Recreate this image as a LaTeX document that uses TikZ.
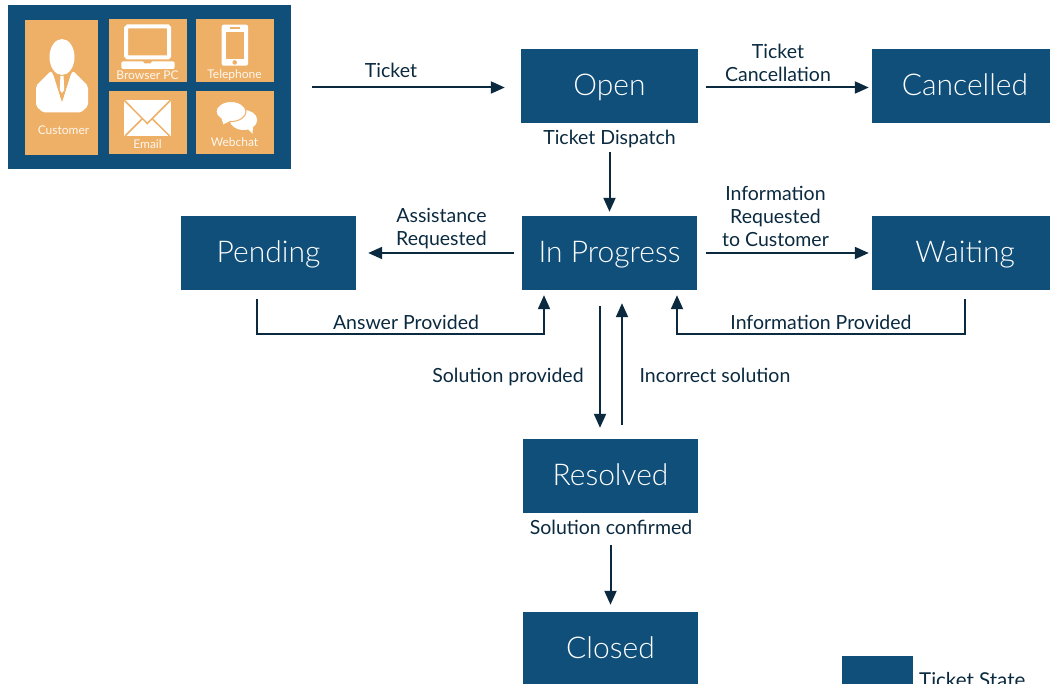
\documentclass[tikz,border=0pt]{standalone}
\usepackage{fontspec}
\usepackage{xcolor}
\usetikzlibrary{arrows.meta}
\setmainfont{Lato}
\newfontfamily\thinfont{Lato Light}
\definecolor{stateblue}{HTML}{0F4F7A}
\definecolor{panelorange}{HTML}{EEB066}
\definecolor{linenavy}{HTML}{0B2A3F}
\tikzset{
  statebox/.style={draw=none, fill=stateblue, text=white, minimum width=175pt, minimum height=74pt, inner sep=0pt, text height=20pt, text depth=1.4pt, font=\thinfont\fontsize{30}{32}\selectfont},
  tile/.style={fill=panelorange, inner sep=0pt},
  tilelabel/.style={text=white!90!panelorange, inner sep=0pt, font=\fontsize{12}{13}\selectfont},
  edgelabel/.style={text=linenavy, inner sep=0pt, align=center, font=\fontsize{19.5}{23}\selectfont},
  conn/.style={draw=linenavy, line width=2pt, -{Triangle[width=12pt,length=14pt]}},
}
\begin{document}
\begin{tikzpicture}[x=1pt, y=-1pt]
\useasboundingbox (0,0) rectangle (1050,684);
\clip (0,0) rectangle (1050,684);

% channels panel
\node (panel) [fill=stateblue, minimum width=283pt, minimum height=164pt, inner sep=0pt] at (149.5,87) {};
\node (customer) [tile, minimum width=73pt, minimum height=135pt] at (61.5,87.5) {};
\node (browser) [tile, minimum width=78pt, minimum height=63pt] at (148,50.5) {};
\node (telephone) [tile, minimum width=78pt, minimum height=63pt] at (235,50.5) {};
\node (email) [tile, minimum width=78pt, minimum height=63pt] at (148,122.5) {};
\node (webchat) [tile, minimum width=78pt, minimum height=63pt] at (235,122.5) {};
\node (customerlabel) [tilelabel] at (63.5,130) {Customer};
\node (browserlabel) [tilelabel] at (147.5,75.5) {Browser PC};
\node (telephonelabel) [tilelabel] at (234.5,75.5) {Telephone};
\node (emaillabel) [tilelabel] at (147.5,144.5) {Email};
\node (webchatlabel) [tilelabel] at (234.5,142) {Webchat};

% customer icon
\fill[white, rounded corners=2pt] (51,71) -- (36,86) -- (36,106) -- (43,112.5) -- (81,112.5) -- (88,106) -- (88,86) -- (73,71) -- (71,74) -- (62,102) -- (53,74) -- cycle;
\fill[panelorange] (53,72) -- (71,72) -- (62,102) -- cycle;
\fill[white] (62,57) ellipse (12.5 and 18);
\fill[white] (60.4,76) -- (63.6,76) -- (64.2,90) -- (62,93) -- (59.8,90) -- cycle;

% laptop icon
\draw[white, line width=4pt, rounded corners=1.5pt] (126.2,26.5) rectangle (169.2,57.5);
\fill[white, rounded corners=2pt] (121.3,61.3) rectangle (174.7,69);
\fill[panelorange] (143,61) -- (152,61) -- (150.5,63.3) -- (144.5,63.3) -- cycle;

% phone icon
\fill[white, rounded corners=2pt] (221.7,24.7) rectangle (248,65.7);
\fill[panelorange] (225.5,31.7) rectangle (244.2,59);
\fill[panelorange] (230,27) rectangle (239.7,29);
\fill[panelorange] (234.7,62.4) circle (2.3);

% envelope icon
\fill[white] (124,100) rectangle (170.7,136);
\draw[panelorange, line width=1.5pt] (124,100) -- (147.3,123.5) -- (170.7,100);
\draw[panelorange, line width=1.5pt] (125,136) -- (142,119);
\draw[panelorange, line width=1.5pt] (169.7,136) -- (152.5,119);

% chat icon
\fill[white] (243.5,120) ellipse (13.7 and 10);
\fill[white] (247,128) -- (252.5,133.7) -- (253,126) -- cycle;
\draw[panelorange, line width=1pt, fill=white] (231,111.5) ellipse (15 and 10);
\fill[white] (221.7,119) -- (223.3,124.3) -- (231,120.5) -- cycle;

% states
\node (open) [statebox, minimum width=177pt] at (609.5,86) {Open};
\node (cancelled) [statebox, minimum width=178pt] at (961,86) {\hspace*{8pt}Cancelled};
\node (pending) [statebox] at (268.5,253) {Pending};
\node (inprogress) [statebox] at (609.5,253) {In Progress};
\node (waiting) [statebox, minimum width=178pt] at (961,253) {\hspace*{8pt}Waiting};
\node (resolved) [statebox] at (610.5,476) {Resolved};
\node (closed) [statebox] at (610.5,649) {Closed};
\node (legendbox) [fill=stateblue, minimum width=71pt, minimum height=60pt, inner sep=0pt] at (877.5,686) {};
\node (legendlabel) [edgelabel, anchor=west, font=\fontsize{20.5}{23}\selectfont] at (919,680) {Ticket State};

% elbow corners
\coordinate (pendingdrop) at (257,334);
\coordinate (answerdrop) at (544,334);
\coordinate (waitingdrop) at (965,334);
\coordinate (infodrop) at (677,334);

% transitions
\draw[conn, shorten <=21pt, shorten >=16pt] ([yshift=-1.5pt]panel.east |- open.west) -- ([yshift=-1.5pt]open.west);
\draw[conn, shorten <=8pt, shorten >=3pt] ([yshift=-1.5pt]open.east) -- ([yshift=-1.5pt]cancelled.west);
\draw[conn, shorten <=29pt, shorten >=4pt] (open.south) -- (inprogress.north);
\draw[conn, shorten <=8pt, shorten >=12pt] (inprogress.west) -- (pending.east);
\draw[conn, shorten <=9pt, shorten >=3pt] (inprogress.east) -- (waiting.west);
\draw[conn, shorten <=9pt, shorten >=5pt] (pendingdrop |- pending.south) -- (pendingdrop) -- (answerdrop) -- (answerdrop |- inprogress.south);
\draw[conn, shorten <=9pt, shorten >=5pt] (waitingdrop |- waiting.south) -- (waitingdrop) -- (infodrop) -- (infodrop |- inprogress.south);
\draw[conn, shorten <=16pt, shorten >=11pt] ([xshift=-9.5pt]inprogress.south) -- ([xshift=-10.5pt]resolved.north);
\draw[conn, shorten <=14pt, shorten >=13pt] ([xshift=11.5pt]resolved.north) -- ([xshift=12.5pt]inprogress.south);
\draw[conn, shorten <=32pt, shorten >=7pt] (resolved.south) -- (closed.north);

% labels
\node (ticketlabel) [edgelabel] at (391,70) {Ticket};
\node (cancellabel) [edgelabel] at (778,62.5) {Ticket\\Cancellation};
\node (dispatchlabel) [edgelabel] at (609.5,138.5) {Ticket Dispatch};
\node (assistlabel) [edgelabel] at (441.5,228.5) {Assistance\\Requested};
\node (inforeqlabel) [edgelabel] at (775.5,216.5) {Information\\Requested\\to Customer};
\node (answerlabel) [edgelabel] at (406,322) {Answer Provided};
\node (infoprovlabel) [edgelabel] at (821,322) {Information Provided};
\node (solutionlabel) [edgelabel] at (508,377) {Solution provided};
\node (incorrectlabel) [edgelabel] at (715,375) {Incorrect solution};
\node (confirmlabel) [edgelabel] at (611,527) {Solution confirmed};
\end{tikzpicture}
\end{document}
